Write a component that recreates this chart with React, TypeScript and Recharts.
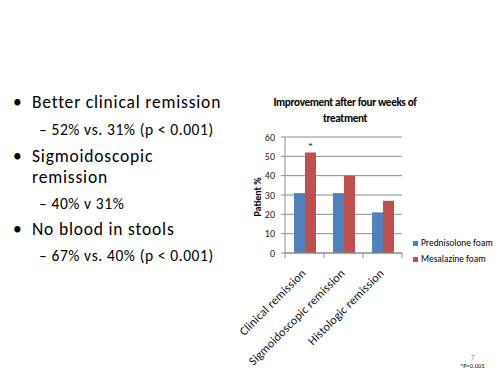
import React from "react";
import { BarChart, Bar, XAxis, YAxis, CartesianGrid, LabelList } from "recharts";

const categories = ["Clinical remission", "Sigmoidoscopic remission", "Histologic remission"];
const prednisolone = [31, 31, 21];
const mesalazine = [52, 40, 27];
const significance = ["*", "", ""];
const yTicks = [0, 10, 20, 30, 40, 50, 60];
const seriesNames = ["Prednisolone foam", "Mesalazine foam"];
const titleLines = ["Improvement after four weeks of", "treatment"];

const data = categories.map((name, i) => ({
  name,
  pred: prednisolone[i],
  mesa: mesalazine[i],
  sig: significance[i],
}));

const FONT = "Carlito, Lato, 'Liberation Sans', sans-serif";
const BLUE = "#4F81BD";
const RED = "#C0504D";
const GRID = "#8c8c8c";

const XTick = (props: any) => {
  const { x, y, payload, index } = props;
  const half = payload && typeof payload.offset === "number" && payload.offset > 0 ? payload.offset : 19.5;
  const last = index === categories.length - 1;
  return (
    <g>
      <line x1={x - half} x2={x - half} y1={y} y2={y + 5} stroke={GRID} />
      {last && <line x1={x + half} x2={x + half} y1={y} y2={y + 5} stroke={GRID} />}
      <text
        transform={`translate(${x + 2},${y + 21}) rotate(-45)`}
        textAnchor="end"
        fontSize={12}
        letterSpacing={0.2}
        fontFamily={FONT}
        fill="#111"
      >
        {payload.value}
      </text>
    </g>
  );
};

const big = { fontSize: 17.5, letterSpacing: 0.8 };
const small = { fontSize: 15.5, letterSpacing: 0.6 };

export default function App() {
  return (
    <div style={{ position: "absolute", left: 0, top: 0, width: 502, height: 376, background: "#fff", overflow: "hidden" }}>
      <svg width={502} height={376} style={{ position: "absolute", left: 0, top: 0 }}>
        <g fontFamily={FONT} fill="#000">
          <text x={13} y={108} {...big}>•</text>
          <text x={32} y={108} {...big}>Better clinical remission</text>
          <text x={39} y={135} {...small}>– 52% vs. 31% (p &lt; 0.001)</text>
          <text x={13} y={162} {...big}>•</text>
          <text x={32} y={162} {...big}>Sigmoidoscopic</text>
          <text x={32} y={183} {...big}>remission</text>
          <text x={39} y={209} {...small}>– 40% v 31%</text>
          <text x={13} y={235} {...big}>•</text>
          <text x={32} y={235} {...big}>No blood in stools</text>
          <text x={39} y={261} {...small}>– 67% vs. 40% (p &lt; 0.001)</text>

          <text x={345} y={106} fontSize={11.2} letterSpacing={-0.35} fontWeight="bold" textAnchor="middle">{titleLines[0]}</text>
          <text x={345} y={122} fontSize={11.2} letterSpacing={-0.35} fontWeight="bold" textAnchor="middle">{titleLines[1]}</text>
          <text transform="translate(261,197) rotate(-90)" fontSize={10} fontWeight="bold" textAnchor="middle">Patient %</text>

          <rect x={413} y={241} width={5} height={5} fill={BLUE} />
          <text x={421} y={246} fontSize={9.4}>{seriesNames[0]}</text>
          <rect x={413} y={257} width={5} height={5} fill={RED} />
          <text x={421} y={262} fontSize={9.4}>{seriesNames[1]}</text>

          <text x={471} y={360} fontSize={7} fill="#8a8a8a">7</text>
          <text x={460} y={368} fontSize={6.5}>*P&lt;0.001</text>
        </g>
      </svg>
      <div style={{ position: "absolute", left: 0, top: 0 }}>
        <BarChart
          width={502}
          height={376}
          data={data}
          margin={{ top: 137, right: 100, left: 245, bottom: 33 }}
          barGap={0}
          barSize={11}
        >
          <CartesianGrid vertical={false} stroke={GRID} />
          <XAxis
            dataKey="name"
            height={90}
            tickLine={false}
            tickSize={0}
            tickMargin={0}
            axisLine={{ stroke: GRID }}
            tick={<XTick />}
            interval={0}
          />
          <YAxis
            width={40}
            domain={[0, 60]}
            ticks={yTicks}
            interval={0}
            tickSize={4}
            tickMargin={6}
            axisLine={{ stroke: GRID }}
            tickLine={{ stroke: GRID }}
            tick={{ fontSize: 10, fill: "#222", fontFamily: FONT }}
          />
          <Bar dataKey="pred" name={seriesNames[0]} fill={BLUE} isAnimationActive={false} />
          <Bar dataKey="mesa" name={seriesNames[1]} fill={RED} isAnimationActive={false}>
            <LabelList dataKey="sig" position="top" offset={3} fontSize={9} fill="#222" />
          </Bar>
        </BarChart>
      </div>
    </div>
  );
}
